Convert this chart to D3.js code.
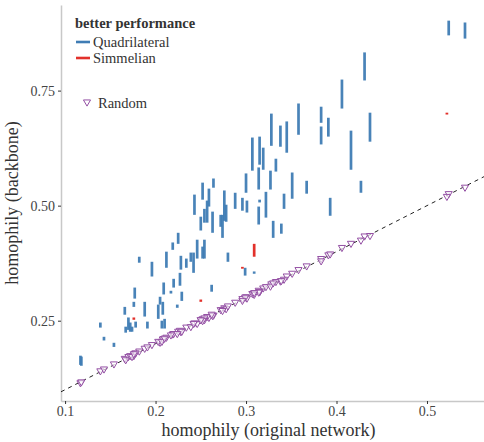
<!DOCTYPE html>
<html>
<head>
<meta charset="utf-8">
<script src="https://cdn.jsdelivr.net/npm/d3@7"></script>
<style>
  body { margin: 0; background: #fff; }
  svg text { fill: #333; }
  .axis path.domain { stroke: #c8c8c8; stroke-width: 1.5; }
  .axis line { stroke: #333; }
  .axis text { font-size: 14px; fill: #444; }
</style>
</head>
<body>
<div id="graph"></div>
<script>
const fullWidth = 484;
const fullHeight = 442;
const margin = { top: 5, right: 0, left: 61, bottom: 41 };
const width = fullWidth - margin.left - margin.right;
const height = fullHeight - margin.top - margin.bottom;

// quadrilateral backbones: original homophily, backbone range (low, high)
const quadX  = [0.524, 0.542, 0.431, 0.406, 0.437, 0.416, 0.358, 0.383, 0.383, 0.391,
                0.328, 0.338, 0.345, 0.307, 0.315, 0.319, 0.367, 0.427, 0.393, 0.300,
                0.296, 0.301, 0.314, 0.315, 0.314, 0.322, 0.327, 0.333, 0.351, 0.342,
                0.330, 0.339, 0.299, 0.309, 0.252, 0.264, 0.243, 0.259, 0.257, 0.254,
                0.250, 0.263, 0.276, 0.278, 0.272, 0.274, 0.288, 0.225, 0.219, 0.246,
                0.254, 0.252, 0.212, 0.228, 0.234, 0.239, 0.242, 0.196, 0.182, 0.280,
                0.227, 0.229, 0.220, 0.177, 0.176, 0.166, 0.188, 0.209, 0.205, 0.208,
                0.203, 0.224, 0.262, 0.170, 0.167, 0.172, 0.174, 0.178, 0.191, 0.207,
                0.210, 0.139, 0.143, 0.154, 0.117, 0.118, 0.217];
const quadLo = [0.870, 0.863, 0.772, 0.711, 0.639, 0.578, 0.654, 0.680, 0.633, 0.650,
                0.630, 0.628, 0.615, 0.576, 0.589, 0.578, 0.526, 0.528, 0.478, 0.528,
                0.489, 0.485, 0.535, 0.507, 0.459, 0.474, 0.535, 0.574, 0.515, 0.493,
                0.430, 0.439, 0.348, 0.352, 0.513, 0.539, 0.480, 0.498, 0.463, 0.463,
                0.446, 0.441, 0.467, 0.465, 0.454, 0.430, 0.493, 0.417, 0.404, 0.385,
                0.385, 0.385, 0.365, 0.361, 0.365, 0.378, 0.354, 0.346, 0.376, 0.378,
                0.326, 0.293, 0.322, 0.298, 0.280, 0.263, 0.259, 0.307, 0.285, 0.263,
                0.254, 0.278, 0.313, 0.230, 0.224, 0.226, 0.226, 0.235, 0.233, 0.233,
                0.233, 0.235, 0.207, 0.193, 0.154, 0.152, 0.309];
const quadHi = [0.902, 0.898, 0.833, 0.774, 0.702, 0.663, 0.722, 0.715, 0.672, 0.691,
                0.700, 0.674, 0.683, 0.648, 0.650, 0.626, 0.554, 0.554, 0.517, 0.570,
                0.517, 0.511, 0.583, 0.513, 0.498, 0.530, 0.576, 0.602, 0.572, 0.526,
                0.467, 0.461, 0.365, 0.357, 0.550, 0.559, 0.524, 0.537, 0.511, 0.493,
                0.476, 0.487, 0.533, 0.502, 0.480, 0.480, 0.528, 0.441, 0.420, 0.426,
                0.426, 0.411, 0.400, 0.391, 0.385, 0.398, 0.398, 0.378, 0.389, 0.398,
                0.354, 0.313, 0.341, 0.322, 0.291, 0.280, 0.291, 0.333, 0.302, 0.291,
                0.285, 0.285, 0.328, 0.257, 0.237, 0.246, 0.237, 0.248, 0.248, 0.250,
                0.254, 0.246, 0.215, 0.202, 0.174, 0.172, 0.315];

// simmelian backbones
const simmX  = [0.522, 0.309, 0.296, 0.250, 0.176];
const simmLo = [0.698, 0.389, 0.363, 0.291, 0.252];
const simmHi = [0.702, 0.417, 0.367, 0.296, 0.257];

// random backbones: original homophily, backbone homophily
const randX = quadX.concat(simmX);
const randY = [0.526, 0.540, 0.434, 0.409, 0.435, 0.418, 0.361, 0.385, 0.380, 0.393,
               0.330, 0.336, 0.347, 0.309, 0.313, 0.321, 0.369, 0.425, 0.395, 0.302,
               0.298, 0.299, 0.316, 0.313, 0.312, 0.324, 0.325, 0.335, 0.353, 0.340,
               0.332, 0.337, 0.301, 0.307, 0.254, 0.262, 0.245, 0.257, 0.259, 0.252,
               0.252, 0.261, 0.278, 0.276, 0.274, 0.272, 0.290, 0.227, 0.221, 0.244,
               0.256, 0.250, 0.214, 0.226, 0.236, 0.237, 0.244, 0.198, 0.184, 0.282,
               0.229, 0.227, 0.222, 0.179, 0.174, 0.168, 0.190, 0.211, 0.203, 0.210,
               0.205, 0.222, 0.264, 0.172, 0.165, 0.174, 0.172, 0.180, 0.193, 0.205,
               0.212, 0.141, 0.145, 0.156, 0.115, 0.117, 0.219,
               0.520, 0.311, 0.294, 0.252, 0.178];

const xTicks = [0.1, 0.2, 0.3, 0.4, 0.5];
const yTicks = [0.25, 0.50, 0.75];

const colors = { quad: "#3f7cb4", simm: "#e2312b", rand: "#9450a4" };
const serif = "Liberation Serif";

var svg = d3.select("#graph")
  .append("svg")
  .attr("width", fullWidth)
  .attr("height", fullHeight)
  .attr("font-family", serif)
  .append("g")
  .attr("transform", "translate(" + margin.left + "," + margin.top + ")");

var x = d3.scaleLinear().domain([0.0955, 0.563]).range([0, width]);
var y = d3.scaleLinear().domain([0.0755, 0.936]).range([height, 0]);

// axes
svg.append("g")
  .attr("class", "axis")
  .attr("transform", `translate(0, ${height})`)
  .call(d3.axisBottom(x).tickValues(xTicks).tickSize(3).tickPadding(2).tickSizeOuter(0).tickFormat(d3.format(".1f")))
  .attr("font-family", serif);

svg.append("g")
  .attr("class", "axis")
  .call(d3.axisLeft(y).tickValues(yTicks).tickSize(3).tickSizeOuter(0).tickFormat(d3.format(".2f")))
  .attr("font-family", serif);

// axis titles
svg.append("text")
  .text("homophily (original network)")
  .attr("x", width / 2 - 4)
  .attr("y", height + 35)
  .style("font-size", "18px")
  .style("text-anchor", "middle");

svg.append("text")
  .text("homophily (backbone)")
  .attr("transform", `translate(-43, ${height / 2}) rotate(-90)`)
  .style("font-size", "18px")
  .style("text-anchor", "middle");

// diagonal y = x
svg.append("clipPath").attr("id", "plotclip")
  .append("rect").attr("width", width).attr("height", height);

svg.append("line")
  .attr("clip-path", "url(#plotclip)")
  .attr("x1", x(0.0955)).attr("y1", y(0.0955))
  .attr("x2", x(0.563)).attr("y2", y(0.563))
  .attr("stroke", "#222")
  .attr("stroke-width", 1)
  .attr("stroke-dasharray", "4,4");

// random backbones
var tri = d3.symbol().type(d3.symbolTriangle).size(22);
svg.append("g").selectAll("path")
  .data(randX.map((d, i) => [d, randY[i]]))
  .enter().append("path")
  .attr("d", tri)
  .attr("transform", d => `translate(${x(d[0])},${y(d[1])}) rotate(180)`)
  .attr("fill", "#fff")
  .attr("fill-opacity", 0.6)
  .attr("stroke", colors.rand)
  .attr("stroke-width", 1);

// quadrilateral ranges
svg.append("g").selectAll("line")
  .data(quadX.map((d, i) => [d, quadLo[i], quadHi[i]]))
  .enter().append("line")
  .attr("x1", d => x(d[0])).attr("x2", d => x(d[0]))
  .attr("y1", d => y(d[1])).attr("y2", d => y(d[2]))
  .attr("stroke", colors.quad)
  .attr("stroke-width", 2.7)
  .attr("stroke-opacity", 0.95);

// simmelian ranges
svg.append("g").selectAll("line")
  .data(simmX.map((d, i) => [d, simmLo[i], simmHi[i]]))
  .enter().append("line")
  .attr("x1", d => x(d[0])).attr("x2", d => x(d[0]))
  .attr("y1", d => y(d[1])).attr("y2", d => y(d[2]))
  .attr("stroke", colors.simm)
  .attr("stroke-width", 2.7);

// legend
var legend = svg.append("g").attr("transform", "translate(14, 0)");
legend.append("text")
  .text("better performance")
  .attr("x", 0).attr("y", 23)
  .style("font-size", "14.5px")
  .style("font-weight", "bold");

var legItems = [["Quadrilateral", colors.quad], ["Simmelian", colors.simm]];
legItems.forEach((d, i) => {
  legend.append("line")
    .attr("x1", 1).attr("x2", 15)
    .attr("y1", 37 + i * 16).attr("y2", 37 + i * 16)
    .attr("stroke", d[1]).attr("stroke-width", 2.6);
  legend.append("text")
    .text(d[0])
    .attr("x", 18).attr("y", 41.5 + i * 16)
    .style("font-size", "14.5px");
});

legend.append("path")
  .attr("d", tri)
  .attr("transform", "translate(12, 97) rotate(180)")
  .attr("fill", "#fff")
  .attr("stroke", colors.rand);
legend.append("text")
  .text("Random")
  .attr("x", 23).attr("y", 102.5)
  .style("font-size", "14.5px");
</script>
</body>
</html>
